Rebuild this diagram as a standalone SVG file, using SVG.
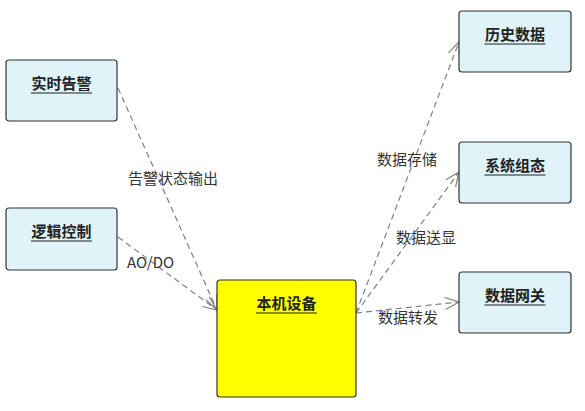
<svg xmlns="http://www.w3.org/2000/svg" width="585" height="411" viewBox="0 0 585 411">
<style>
.node{fill:#dff3f8;stroke:#333;stroke-width:1.2}
.main{fill:#ffff00;stroke:#333;stroke-width:1.2}
.t{font-family:"Noto Sans CJK SC","Microsoft YaHei",sans-serif;font-size:15px;font-weight:bold;fill:#222;text-anchor:middle}
.u{stroke:#222;stroke-width:1}
.e{fill:none;stroke:#808080;stroke-width:1.2;stroke-dasharray:6,4}
.l{font-family:"Noto Sans CJK SC","Microsoft YaHei",sans-serif;font-size:15px;fill:#333}
</style>
<defs>
<marker id="arr" markerWidth="16" markerHeight="14" refX="15" refY="7" orient="auto" markerUnits="userSpaceOnUse">
<path d="M1,1 L15,7 L1,13" fill="none" stroke="#808080" stroke-width="1.2"/>
</marker>
</defs>
<g id="connectors">
<line class="e" x1="118" y1="88" x2="217" y2="310" marker-end="url(#arr)"/>
<line class="e" x1="118" y1="237" x2="217" y2="310" marker-end="url(#arr)"/>
<line class="e" x1="356" y1="313" x2="459" y2="42" marker-end="url(#arr)"/>
<line class="e" x1="356" y1="313" x2="459" y2="172" marker-end="url(#arr)"/>
<line class="e" x1="356" y1="313" x2="459" y2="302" marker-end="url(#arr)"/>
<text class="l" x="128" y="184">告警状态输出</text>
<text class="l" x="127" y="268">AO/DO</text>
<text class="l" x="377" y="165">数据存储</text>
<text class="l" x="396" y="243">数据送显</text>
<text class="l" x="378" y="323">数据转发</text>
</g>
<g id="n1">
<rect class="node" x="6" y="60" width="111" height="61" rx="3"/>
<text class="t" x="61.5" y="89">实时告警</text>
<line class="u" x1="31" y1="93" x2="92" y2="93"/>
</g>
<g id="n2">
<rect class="node" x="6" y="208" width="111" height="62" rx="3"/>
<text class="t" x="61.5" y="237">逻辑控制</text>
<line class="u" x1="31" y1="241" x2="92" y2="241"/>
</g>
<g id="n3">
<rect class="main" x="217" y="280" width="139" height="117" rx="3"/>
<text class="t" x="286.5" y="309">本机设备</text>
<line class="u" x1="256" y1="313" x2="317" y2="313"/>
</g>
<g id="n4">
<rect class="node" x="459" y="11" width="112" height="61" rx="3"/>
<text class="t" x="515" y="40">历史数据</text>
<line class="u" x1="484.5" y1="44" x2="545.5" y2="44"/>
</g>
<g id="n5">
<rect class="node" x="459" y="142" width="112" height="61" rx="3"/>
<text class="t" x="515" y="171">系统组态</text>
<line class="u" x1="484.5" y1="175" x2="545.5" y2="175"/>
</g>
<g id="n6">
<rect class="node" x="459" y="272" width="112" height="61" rx="3"/>
<text class="t" x="515" y="301">数据网关</text>
<line class="u" x1="484.5" y1="305" x2="545.5" y2="305"/>
</g>
</svg>
